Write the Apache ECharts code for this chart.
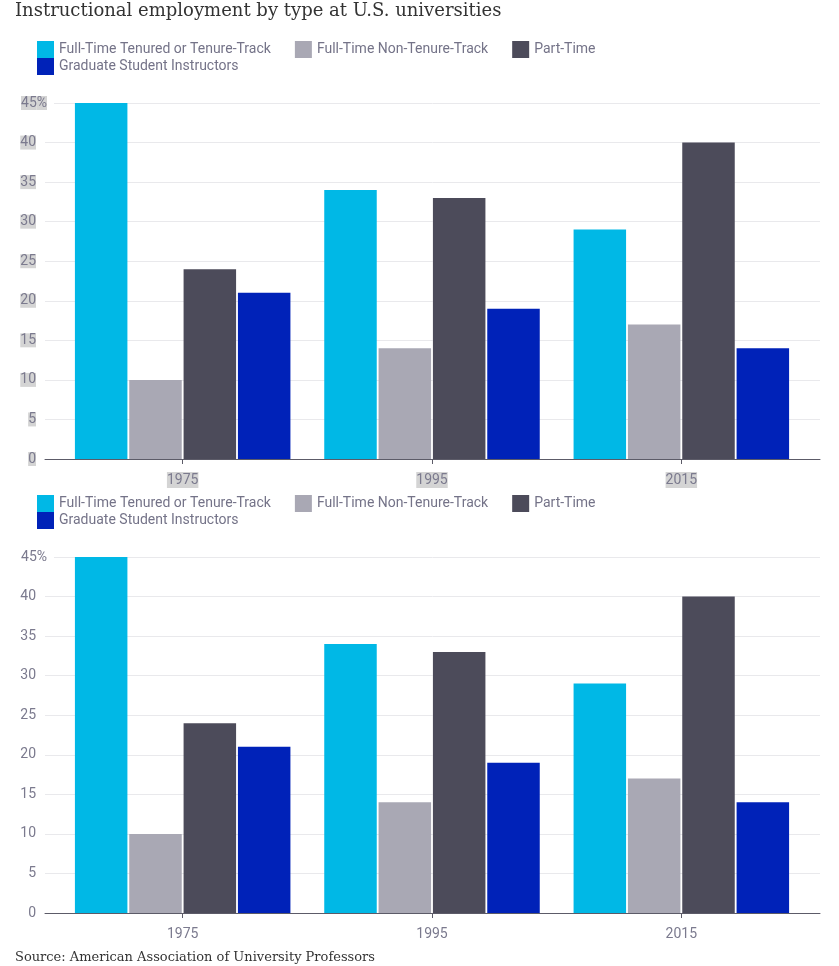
<!DOCTYPE html>
<html>
<head>
<meta charset="utf-8">
<script src="https://cdn.jsdelivr.net/npm/echarts@6/dist/echarts.min.js"></script>
<style>
html,body{margin:0;padding:0;background:#fff;}
#chart{width:839px;height:966px;}
</style>
</head>
<body>
<div id="chart"></div>
<script>
// ---- data ----
var categories = ['1975', '1995', '2015'];
var seriesNames = ['Full-Time Tenured or Tenure-Track', 'Full-Time Non-Tenure-Track', 'Part-Time', 'Graduate Student Instructors'];
var tenured = [45, 34, 29];
var nonTenure = [10, 14, 17];
var partTime = [24, 33, 40];
var gradInstructors = [21, 19, 14];
var yTicks = [0, 5, 10, 15, 20, 25, 30, 35, 40, 45];
var titleText = 'Instructional employment by type at U.S. universities';
var sourceText = 'Source: American Association of University Professors';

var colors = ['#00b8e6', '#a9a8b4', '#4c4b5a', '#0022b8'];
var values = [tenured, nonTenure, partTime, gradInstructors];
var yMax = yTicks[yTicks.length - 1];
var tickColor = '#7b7a8e';
var sans = 'Roboto';
var fs = 14;
var highlight = '#d4d4d4';

var mctx = document.createElement('canvas').getContext('2d');
mctx.font = fs + 'px ' + sans;
var pctW = Math.ceil(mctx.measureText('%').width);

var chart = echarts.init(document.getElementById('chart'));

var panels = [
  {top: 103, bottom: 507, legendTop: 41, hl: true},
  {top: 557, bottom: 53, legendTop: 495, hl: false}
];

var grid = [], xAxis = [], yAxis = [], series = [], legend = [];

panels.forEach(function (p, pi) {
  var gA = grid.length;
  grid.push({left: 45, right: 19, top: p.top, bottom: p.bottom, containLabel: false});
  var gB = grid.length;
  grid.push({left: 58, right: 33, top: p.top, bottom: p.bottom, containLabel: false});

  xAxis.push({
    type: 'value', gridIndex: gA, min: 0, max: 1,
    axisLine: {show: true, onZero: false, lineStyle: {color: '#5c5b68', width: 1}},
    axisTick: {show: false}, axisLabel: {show: false}, splitLine: {show: false}
  });
  xAxis.push({
    type: 'category', gridIndex: gB, data: categories,
    axisLine: {show: false},
    axisTick: {show: true, alignWithLabel: true, length: 5, lineStyle: {color: '#5c5b68'}},
    axisLabel: {
      color: tickColor, fontFamily: sans, fontSize: fs, margin: 13,
      backgroundColor: p.hl ? highlight : 'transparent', padding: [1, 0, 1, 0]
    }
  });

  var bg = p.hl ? highlight : 'transparent';
  yAxis.push({
    type: 'value', gridIndex: gA, min: 0, max: yMax, interval: yTicks[1] - yTicks[0],
    axisLine: {show: false}, axisTick: {show: false},
    splitLine: {show: true, lineStyle: {color: '#e9e9ec', width: 1}},
    axisLabel: {
      margin: -(pctW + 7 + 36 - 45),
      formatter: function (v) {
        if (v === yMax) return '{n|' + v + '}{pc|%}{w| }';
        return '{n|' + v + '}{pe| }{t| }';
      },
      rich: {
        n: {color: tickColor, fontFamily: sans, fontSize: fs, lineHeight: 16, backgroundColor: bg},
        pc: {color: tickColor, fontFamily: sans, fontSize: fs, lineHeight: 16, backgroundColor: bg},
        pe: {fontSize: fs, lineHeight: 16, width: pctW},
        w: {fontSize: fs, lineHeight: 16, width: 7, backgroundColor: '#ffffff'},
        t: {fontSize: fs, lineHeight: 16, width: 7}
      }
    }
  });
  yAxis.push({
    type: 'value', gridIndex: gB, min: 0, max: yMax, interval: yTicks[1] - yTicks[0], show: false,
    splitLine: {show: false}
  });

  var xi = pi * 2 + 1, yi = pi * 2 + 1;
  seriesNames.forEach(function (name, si) {
    series.push({
      name: name, type: 'bar', xAxisIndex: xi, yAxisIndex: yi,
      data: values[si], barWidth: 52.5, barGap: '3.5%',
      itemStyle: {color: colors[si]},
      emphasis: {disabled: true}
    });
  });

  var legendCommon = {
    left: 37, orient: 'horizontal', padding: 0, itemWidth: 17, itemHeight: 17, itemGap: 24,
    icon: 'rect', selectedMode: false,
    textStyle: {color: '#747388', fontFamily: sans, fontSize: fs}
  };
  legend.push(Object.assign({}, legendCommon, {top: p.legendTop, data: seriesNames.slice(0, 3)}));
  legend.push(Object.assign({}, legendCommon, {top: p.legendTop + 17, data: seriesNames.slice(3)}));
});

chart.setOption({
  animation: false,
  color: colors,
  title: [
    {text: titleText, left: 15, top: 2, padding: 0,
     textStyle: {fontFamily: 'DejaVu Serif', fontWeight: 'normal', fontSize: 18, color: '#333333'}},
    {text: sourceText, left: 15, top: 951, padding: 0,
     textStyle: {fontFamily: 'DejaVu Serif', fontWeight: 'normal', fontSize: 13, color: '#333333'}}
  ],
  legend: legend,
  grid: grid,
  xAxis: xAxis,
  yAxis: yAxis,
  series: series
});
</script>
</body>
</html>
